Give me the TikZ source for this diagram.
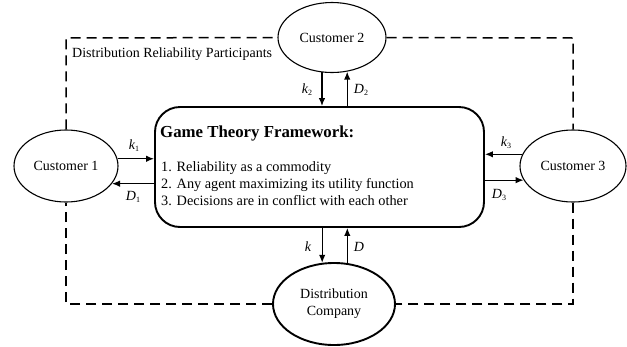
\documentclass[tikz,border=0pt]{standalone}
\usepackage{fontspec}
\setmainfont{Liberation Serif}
\usetikzlibrary{shapes.geometric,arrows.meta,calc}
\newcommand{\lab}[2]{\textit{#1}\raisebox{-0.35ex}{\footnotesize #2}}
\begin{document}
\begin{tikzpicture}[x=1pt,y=-1pt,
  cust/.style={ellipse,draw,line width=1.1pt,inner sep=0pt,font=\fontsize{14}{16}\selectfont},
  dashline/.style={line width=1.5pt,dash pattern=on 10pt off 6pt},
  arr/.style={line width=1.3pt,-{Latex[length=8pt,width=6.5pt]}},
  lbl/.style={font=\fontsize{14}{16}\selectfont,inner sep=1pt}]
\useasboundingbox (0,0) rectangle (627,346);
% main box
\node[draw,rounded corners=25pt,line width=1.9pt,minimum width=329pt,minimum height=120pt,inner sep=0pt] (box) at (319.5,167) {};
\node[anchor=west,inner sep=0pt,font=\fontsize{16.8}{18}\selectfont\bfseries] (title) at (160,133) {Game Theory Framework:};
\node[anchor=north west,inner sep=0pt,align=left,font=\fontsize{14.3}{17}\selectfont] (items) at (161,161) {1. Reliability as a commodity\\2. Any agent maximizing its utility function\\3. Decisions are in conflict with each other};
% ellipses
\node[cust,minimum width=104pt,minimum height=72pt] (c1) at (66,166) {Customer 1};
\node[cust,minimum width=108pt,minimum height=70pt] (c2) at (332,37.5) {Customer 2};
\node[cust,minimum width=106pt,minimum height=72pt] (c3) at (573,166) {Customer 3};
\node[cust,line width=1.9pt,minimum width=122pt,minimum height=82pt,align=center,font=\fontsize{14}{17}\selectfont] (dc) at (334,304) {Distribution\\Company};
% dashed frame
\coordinate (tl) at (66,38);
\coordinate (tr) at (573,38);
\coordinate (br) at (573,304);
\coordinate (bl) at (66,304);
\draw[dashline] (c1.north) -- (tl) -- (c2.west);
\draw[dashline] (c2.east) -- (tr) -- (c3.north);
\draw[dashline] (c3.south) -- (br) -- (dc.east);
\draw[dashline] (dc.west) -- (bl) -- (c1.south);
\node[anchor=west,font=\fontsize{14}{16}\selectfont,inner sep=0pt] (part) at (72,54) {Distribution Reliability Participants};
% Customer 1 arrows
\draw[arr] (c1.8) -- (c1.8 -| box.west);
\draw[arr] (c1.-21.8 -| box.west) -- (c1.-21.8);
\node[lbl] (k1) at (134,146) {\lab{k}{1}};
\node[lbl] (d1) at (133,197) {\lab{D}{1}};
% Customer 2 arrows
\draw[arr] (c2.254) -- (c2.254 |- box.north);
\draw[arr] (c2.294 |- box.north) -- (c2.294);
\node[lbl] (k2) at (307,90) {\lab{k}{2}};
\node[lbl] (d2) at (361,90) {\lab{D}{2}};
% Customer 3 arrows
\draw[arr] (c3.167.7) -- (c3.167.7 -| box.east);
\draw[arr] (c3.196 -| box.east) -- (c3.196);
\node[lbl] (k3) at (506,143) {\lab{k}{3}};
\node[lbl] (d3) at (499,195) {\lab{D}{3}};
% Company arrows
\draw[arr] (dc.106.6 |- box.south) -- (dc.106.6);
\draw[arr] (dc.72) -- (dc.72 |- box.south);
\node[lbl] (k) at (308,247) {\textit{k}};
\node[lbl] (d) at (359,247) {\textit{D}};
\end{tikzpicture}
\end{document}
